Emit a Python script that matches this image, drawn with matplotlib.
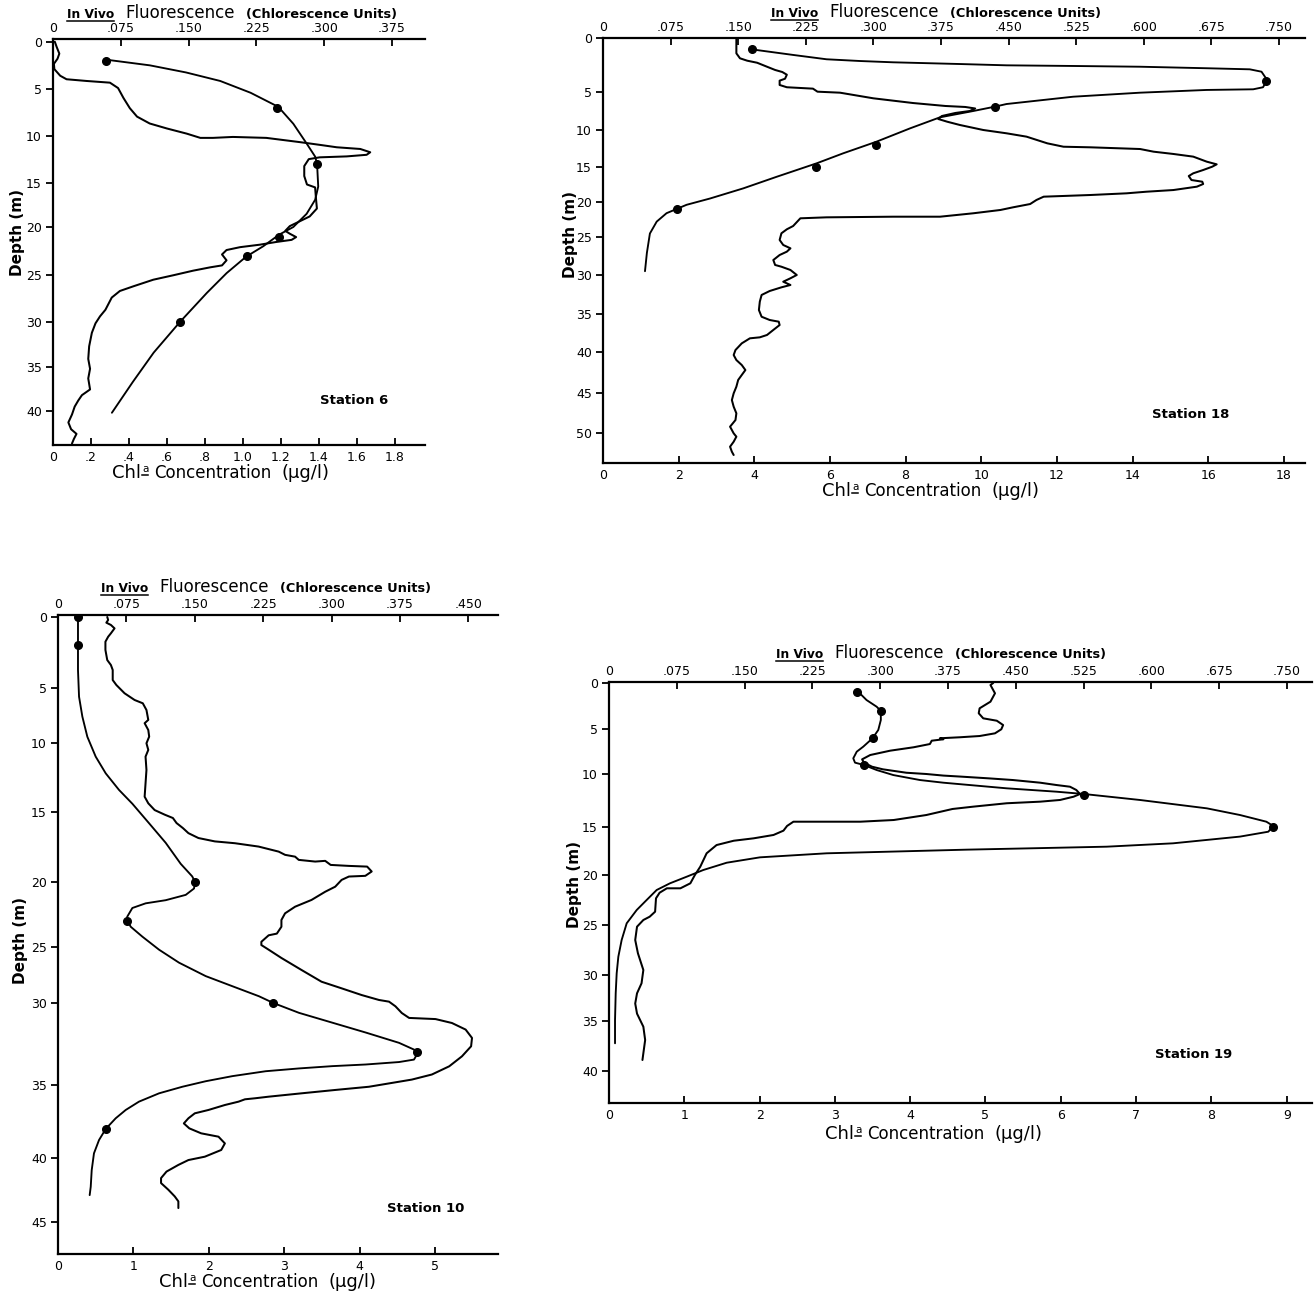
import numpy as np
import matplotlib
matplotlib.use("Agg")
import matplotlib.pyplot as plt
from matplotlib.lines import Line2D

plt.rcParams['font.family'] = ['DejaVu Sans']

W, H = 1316, 1292

# ======================= DATA =======================
# ---- Station 6 ----
s6_fl_depth = [0, 0.54, 1.26, 1.8, 2.34, 2.9, 3.6, 3.97, 4.15, 4.33,
               4.9, 5.96, 7.04, 7.94, 8.67, 9.2, 9.75, 10.2, 10.2, 10.1,
               10.2, 10.65, 10.94, 11.2, 11.38, 11.73, 12.0, 12.17, 12.27, 12.46,
               13.2, 14.26, 15.17, 15.5, 16.8, 17.9, 18.8, 19.35, 19.9, 20.4,
               20.7, 21.05, 21.34, 21.56, 21.84, 22.1, 22.4, 22.86, 23.47, 24.0,
               24.2, 24.55, 25.03, 25.5, 26.2, 26.7, 27.4, 28.7, 29.4, 30.15,
               31.2, 32.7, 34.1, 35.2, 36.3, 37.55, 38.2, 38.8, 39.5, 40.4,
               41.3, 42.07, 42.6, 43.2, 43.7]
s6_fl = [0.002, 0.004, 0.007, 0.005, 0.001, 0.0015, 0.008, 0.015, 0.037, 0.063,
         0.072, 0.078, 0.085, 0.093, 0.107, 0.126, 0.148, 0.163, 0.177, 0.199,
         0.236, 0.273, 0.295, 0.314, 0.340, 0.351, 0.347, 0.325, 0.295, 0.283,
         0.278, 0.278, 0.281, 0.290, 0.291, 0.292, 0.284, 0.273, 0.262, 0.257,
         0.262, 0.269, 0.264, 0.247, 0.229, 0.207, 0.192, 0.187, 0.192, 0.187,
         0.174, 0.155, 0.133, 0.111, 0.089, 0.074, 0.065, 0.058, 0.052, 0.047,
         0.043, 0.040, 0.039, 0.041, 0.039, 0.041, 0.032, 0.028, 0.024, 0.021,
         0.017, 0.020, 0.026, 0.023, 0.021]
s6_chl_depth = [1.9, 2.5, 3.25, 4.15, 5.4, 6.9, 8.7, 10.8, 12.2, 13.0, 15.4, 16.9,
                18.5, 20.0, 20.8, 22.0, 23.1, 24.8, 26.9, 30.0, 33.4, 36.7, 40.2]
s6_chl = [0.28, 0.51, 0.70, 0.88, 1.04, 1.186, 1.265, 1.335, 1.38, 1.39, 1.396, 1.38,
          1.335, 1.265, 1.19, 1.107, 1.016, 0.914, 0.81, 0.668, 0.53, 0.42, 0.31]
s6_dot_depth = [2, 7, 13, 21, 23, 30]
s6_dot_chl = [0.28, 1.18, 1.39, 1.19, 1.02, 0.67]
s6_chl_ticks = [0, 0.2, 0.4, 0.6, 0.8, 1.0, 1.2, 1.4, 1.6, 1.8]
s6_chl_ticklabels = ["0", ".2", ".4", ".6", ".8", "1.0", "1.2", "1.4", "1.6", "1.8"]
s6_fl_ticks = [0, 0.075, 0.150, 0.225, 0.300, 0.375]
s6_fl_ticklabels = ["0", ".075", ".150", ".225", ".300", ".375"]
s6_depth_ticks = [0, 5, 10, 15, 20, 25, 30, 35, 40]

# ---- Station 18 ----
s18_fl_depth = [0, 1.42, 1.88, 2.1, 2.29, 2.66, 2.96, 3.15, 3.4, 3.77,
                3.95, 4.35, 4.56, 4.69, 4.97, 5.09, 5.39, 5.83, 6.45, 6.84,
                6.97, 7.17, 7.5, 7.76, 8.16, 8.55, 8.91, 9.34, 10.0, 10.45,
                10.9, 11.8, 12.26, 12.34, 12.57, 12.93, 13.24, 13.6, 14.28, 14.64,
                14.96, 15.43, 15.9, 16.29, 16.86, 17.1, 17.43, 17.81, 18.29, 18.53,
                18.76, 19.0, 19.24, 19.71, 20.29, 20.76, 21.14, 21.61, 22.1, 22.1,
                22.19, 22.33, 23.43, 23.9, 24.47, 25.39, 26.05, 26.49, 26.93, 27.37,
                28.03, 28.68, 28.91, 29.34, 30.0, 30.42, 30.86, 31.28, 31.58, 32.05,
                32.56, 33.42, 34.49, 35.36, 35.79, 36.01, 36.45, 37.1, 37.76, 38.07,
                38.2, 38.86, 39.74, 40.37, 40.98, 41.59, 42.2, 42.8, 43.41, 44.23,
                45.04, 45.88, 46.71, 47.54, 48.38, 49.21, 50.04, 50.46, 51.09, 51.71,
                52.34, 52.75]
s18_fl = [0.148, 0.148, 0.152, 0.160, 0.171, 0.182, 0.191, 0.199, 0.204, 0.202,
          0.196, 0.196, 0.204, 0.233, 0.238, 0.263, 0.278, 0.300, 0.344, 0.380,
          0.402, 0.413, 0.407, 0.391, 0.376, 0.372, 0.382, 0.396, 0.422, 0.448,
          0.470, 0.493, 0.511, 0.541, 0.596, 0.611, 0.633, 0.655, 0.670, 0.681,
          0.676, 0.666, 0.655, 0.650, 0.653, 0.665, 0.666, 0.659, 0.633, 0.603,
          0.581, 0.541, 0.489, 0.481, 0.474, 0.455, 0.441, 0.411, 0.374, 0.322,
          0.248, 0.219, 0.211, 0.204, 0.198, 0.196, 0.200, 0.208, 0.204, 0.196,
          0.189, 0.191, 0.198, 0.208, 0.215, 0.208, 0.200, 0.208, 0.198, 0.185,
          0.176, 0.174, 0.173, 0.176, 0.185, 0.195, 0.196, 0.189, 0.182, 0.174,
          0.163, 0.154, 0.147, 0.145, 0.148, 0.154, 0.158, 0.154, 0.150, 0.148,
          0.145, 0.143, 0.145, 0.148, 0.147, 0.141, 0.145, 0.148, 0.145, 0.141,
          0.143, 0.145]
s18_chl_depth = [1.05, 1.57, 1.97, 2.13, 2.25, 2.41, 2.53, 2.59, 2.66, 2.8,
                 2.9, 3.12, 3.89, 4.56, 4.75, 4.81, 5.09, 5.62, 6.58, 6.93,
                 7.5, 8.33, 9.78, 11.6, 13.15, 14.5, 16.4, 18.05, 19.5, 20.4,
                 21.6, 22.8, 24.5, 27.1, 29.5]
s18_chl = [3.93, 5.03, 5.91, 6.79, 7.67, 9.44, 10.67, 12.42, 14.2, 15.96,
           17.1, 17.41, 17.56, 17.45, 17.19, 15.96, 14.2, 12.43, 10.67, 10.36,
           9.79, 8.91, 8.12, 7.22, 6.35, 5.65, 4.59, 3.71, 2.83, 2.21,
           1.68, 1.42, 1.24, 1.16, 1.11]
s18_dot_depth = [1, 4, 7, 12, 15, 21]
s18_dot_chl = [3.93, 17.54, 10.36, 7.22, 5.63, 1.96]
s18_chl_ticks = [0, 2, 4, 6, 8, 10, 12, 14, 16, 18]
s18_chl_ticklabels = ["0", "2", "4", "6", "8", "10", "12", "14", "16", "18"]
s18_fl_ticks = [0, 0.075, 0.150, 0.225, 0.300, 0.375, 0.450, 0.525, 0.600, 0.675, 0.750]
s18_fl_ticklabels = ["0", ".075", ".150", ".225", ".300", ".375", ".450", ".525",
                     ".600", ".675", ".750"]
s18_depth_ticks = [0, 5, 10, 15, 20, 25, 30, 35, 40, 45, 50]

# ---- Station 10 ----
s10_fl_depth = [0, 0.21, 0.4, 0.56, 0.8, 1.15, 1.39, 1.74, 2.32, 3.03,
                3.38, 3.73, 4.44, 4.79, 5.48, 6.09, 6.39, 7.0, 7.9, 8.2,
                8.82, 9.42, 10.02, 10.5, 10.99, 11.95, 12.92, 13.89, 14.37, 14.86,
                15.19, 15.43, 15.79, 16.15, 16.51, 16.86, 17.1, 17.23, 17.47, 17.83,
                18.06, 18.19, 18.42, 18.54, 18.49, 18.78, 18.85, 18.9, 19.25, 19.56,
                19.61, 19.85, 20.36, 20.75, 21.38, 21.9, 22.41, 22.92, 23.44, 23.97,
                24.1, 24.6, 24.85, 25.24, 25.98, 27.05, 28.1, 28.69, 29.29, 29.73,
                29.88, 30.2, 30.61, 30.91, 30.98, 31.22, 31.62, 32.13, 32.64, 33.25,
                33.86, 34.36, 34.67, 35.12, 35.34, 35.57, 35.8, 35.91, 35.98, 36.14,
                36.37, 36.71, 36.94, 37.28, 37.63, 37.97, 38.31, 38.54, 39.0, 39.45,
                39.91, 40.16, 40.54, 41.06, 41.57, 41.96, 42.48, 43.0, 43.39, 43.91]
s10_fl = [0.054, 0.055, 0.053, 0.058, 0.062, 0.058, 0.055, 0.052, 0.052, 0.054,
          0.058, 0.060, 0.060, 0.064, 0.073, 0.084, 0.093, 0.097, 0.099, 0.095,
          0.099, 0.100, 0.097, 0.099, 0.096, 0.097, 0.096, 0.095, 0.099, 0.106,
          0.117, 0.126, 0.130, 0.137, 0.143, 0.154, 0.172, 0.194, 0.220, 0.242,
          0.249, 0.260, 0.264, 0.282, 0.293, 0.299, 0.319, 0.339, 0.344, 0.337,
          0.319, 0.311, 0.304, 0.293, 0.278, 0.260, 0.249, 0.245, 0.245, 0.240,
          0.231, 0.223, 0.223, 0.231, 0.245, 0.267, 0.289, 0.311, 0.333, 0.352,
          0.363, 0.370, 0.377, 0.385, 0.414, 0.432, 0.447, 0.454, 0.453, 0.443,
          0.429, 0.410, 0.388, 0.341, 0.304, 0.267, 0.231, 0.216, 0.205, 0.198,
          0.183, 0.165, 0.150, 0.143, 0.138, 0.144, 0.157, 0.176, 0.183, 0.179,
          0.161, 0.143, 0.132, 0.119, 0.113, 0.113, 0.121, 0.128, 0.132, 0.132]
s10_chl_depth = [0, 1.97, 3.73, 5.79, 7.6, 9.43, 10.99, 12.2, 13.4, 14.4,
                 15.8, 17.2, 18.7, 19.6, 20.0, 20.5, 20.99, 21.4, 21.64, 22.0,
                 22.66, 22.85, 23.44, 24.2, 25.24, 26.4, 27.6, 28.5, 29.4, 30.0,
                 30.6, 31.2, 31.8, 32.43, 32.84, 33.1, 33.45, 33.6, 33.75, 33.85,
                 33.99, 34.16, 34.46, 34.77, 35.12, 35.57, 36.14, 36.71, 37.28, 38.01,
                 38.77, 39.68, 40.95, 42.25, 42.9]
s10_chl = [0.265, 0.265, 0.265, 0.279, 0.323, 0.389, 0.5, 0.633, 0.809, 0.986,
           1.207, 1.428, 1.627, 1.78, 1.817, 1.804, 1.694, 1.428, 1.163, 0.986,
           0.919, 0.911, 0.964, 1.118, 1.34, 1.605, 1.959, 2.312, 2.666, 2.856,
           3.196, 3.638, 4.08, 4.523, 4.721, 4.765, 4.721, 4.523, 4.08, 3.638,
           3.196, 2.754, 2.312, 1.959, 1.649, 1.34, 1.074, 0.898, 0.765, 0.633,
           0.544, 0.477, 0.447, 0.434, 0.42]
s10_dot_depth = [0, 2, 20, 23, 30, 33, 38]
s10_dot_chl = [0.265, 0.265, 1.817, 0.911, 2.856, 4.765, 0.633]
s10_chl_ticks = [0, 1, 2, 3, 4, 5]
s10_chl_ticklabels = ["0", "1", "2", "3", "4", "5"]
s10_fl_ticks = [0, 0.075, 0.150, 0.225, 0.300, 0.375, 0.450]
s10_fl_ticklabels = ["0", ".075", ".150", ".225", ".300", ".375", ".450"]
s10_depth_ticks = [0, 5, 10, 15, 20, 25, 30, 35, 40, 45]

# ---- Station 19 ----
s19_fl_depth = [0, 0.22, 1.12, 2.03, 2.75, 3.29, 3.84, 4.1, 4.57, 5.03,
                5.48, 5.78, 5.92, 6.03, 6.14, 6.3, 6.67, 7.03, 7.41, 7.89,
                8.37, 8.74, 9.19, 9.48, 9.86, 10.0, 10.15, 10.25, 10.41, 10.57,
                10.82, 11.04, 11.2, 11.51, 11.89, 12.14, 12.45, 12.61, 12.76, 13.08,
                13.3, 13.87, 14.34, 14.5, 14.5, 14.5, 14.9, 15.38, 15.83, 16.18,
                16.43, 16.88, 17.74, 19.13, 20.0, 20.83, 21.33, 21.33, 21.77, 22.33,
                23.67, 24.17, 24.5, 25.17, 26.5, 27.83, 29.5, 30.9, 31.99, 33.1,
                34.2, 35.57, 36.9, 38.23, 38.9]
s19_fl = [0.425, 0.422, 0.427, 0.422, 0.410, 0.409, 0.414, 0.429, 0.436, 0.434,
          0.427, 0.410, 0.388, 0.366, 0.370, 0.357, 0.355, 0.337, 0.311, 0.289,
          0.280, 0.282, 0.291, 0.303, 0.329, 0.351, 0.370, 0.390, 0.420, 0.447,
          0.477, 0.495, 0.510, 0.517, 0.521, 0.514, 0.499, 0.477, 0.440, 0.403,
          0.380, 0.351, 0.315, 0.278, 0.233, 0.204, 0.197, 0.193, 0.182, 0.160,
          0.138, 0.119, 0.108, 0.101, 0.095, 0.090, 0.079, 0.064, 0.056, 0.052,
          0.051, 0.045, 0.038, 0.031, 0.029, 0.032, 0.038, 0.036, 0.031, 0.029,
          0.031, 0.038, 0.040, 0.038, 0.037]
s19_chl_depth = [0.87, 1.85, 2.58, 3.04, 4.02, 5.11, 6.03, 6.96, 7.52, 8.26,
                 8.74, 9.0, 9.56, 10.1, 10.57, 10.82, 11.35, 11.67, 11.89, 12.45,
                 13.24, 13.87, 14.5, 14.9, 15.49, 16.0, 16.7, 17.05, 17.2, 17.36,
                 17.74, 18.16, 18.72, 19.48, 20.17, 20.83, 21.5, 22.5, 23.5, 24.83,
                 26.5, 28.17, 29.83, 31.99, 34.9, 37.23]
s19_chl = [3.30, 3.42, 3.555, 3.61, 3.61, 3.576, 3.50, 3.377, 3.29, 3.244,
           3.267, 3.386, 3.555, 3.776, 4.13, 4.44, 5.28, 5.945, 6.31, 7.05,
           7.94, 8.38, 8.73, 8.82, 8.756, 8.38, 7.49, 6.61, 5.72, 4.75,
           2.89, 2.005, 1.563, 1.252, 1.032, 0.81, 0.633, 0.5, 0.368, 0.235,
           0.168, 0.124, 0.102, 0.089, 0.08, 0.08]
s19_dot_depth = [1, 3, 6, 9, 12, 15]
s19_dot_chl = [3.30, 3.61, 3.50, 3.39, 6.31, 8.82]
s19_chl_ticks = [0, 1, 2, 3, 4, 5, 6, 7, 8, 9]
s19_chl_ticklabels = ["0", "1", "2", "3", "4", "5", "6", "7", "8", "9"]
s19_fl_ticks = [0, 0.075, 0.150, 0.225, 0.300, 0.375, 0.450, 0.525, 0.600, 0.675, 0.750]
s19_fl_ticklabels = ["0", ".075", ".150", ".225", ".300", ".375", ".450", ".525",
                     ".600", ".675", ".750"]
s19_depth_ticks = [0, 5, 10, 15, 20, 25, 30, 35, 40]

station_names = ["Station 6", "Station 18", "Station 10", "Station 19"]

# ======================= LAYOUT =======================
# axes boxes in pixels: (left, top, right, bottom)
BOX = {
    6: (53, 39, 425, 445),
    18: (603, 38, 1305, 463),
    10: (58, 615, 498, 1254),
    19: (609, 682, 1312, 1103),
}
# pixel rows of the hand-drawn depth ticks (axis calibration)
DEPTH_ROWS = {
    6: [41.7, 89, 136, 183, 227, 275, 322, 367, 411],
    18: [38, 92, 130, 167, 202, 237, 275, 314, 352, 393, 433],
    10: [617, 688, 743, 812, 882, 947, 1003, 1085, 1158, 1222],
    19: [683, 729, 774, 827, 875, 925, 975, 1021, 1071],
}
CHL_MAX = {6: 1.958, 18: 18.56, 10: 5.835, 19: 9.336}
FL_MAX = {6: 0.4116, 18: 0.779, 10: 0.4825, 19: 0.7777}

TOP_TITLE = {6: (67, 18), 18: (771, 17), 10: (101, 592), 19: (776, 658)}
BOT_TITLE = {6: (112, 478), 18: (822, 496), 10: (159, 1287), 19: (825, 1139)}
DEPTH_LBL = {6: (18, 233), 18: (570, 235), 10: (21, 941), 19: (575, 885)}
STATION_LBL = {6: (320, 400), 18: (1152, 415), 10: (387, 1209), 19: (1155, 1055)}

fig = plt.figure(figsize=(W / 100, H / 100), dpi=100)


def depth_scale(ticks, rows):
    d = np.asarray(ticks, float)
    p = np.asarray(rows, float)
    s0 = (p[1] - p[0]) / (d[1] - d[0])
    s1 = (p[-1] - p[-2]) / (d[-1] - d[-2])
    d_ext = np.r_[d[0] - 1000, d, d[-1] + 1000]
    p_ext = np.r_[p[0] - 1000 * s0, p, p[-1] + 1000 * s1]

    def fwd(x):
        return np.interp(np.asarray(x, float), d_ext, p_ext)

    def inv(y):
        return np.interp(np.asarray(y, float), p_ext, d_ext)
    return fwd, inv


def panel(key, depth_ticks, chl_ticks, chl_labels, fl_ticks, fl_labels,
          fl_d, fl_v, chl_d, chl_v, dot_d, dot_v):
    l, t, r, b = BOX[key]
    ax = fig.add_axes([l / W, 1 - b / H, (r - l) / W, (b - t) / H])
    fwd, inv = depth_scale(depth_ticks, DEPTH_ROWS[key])
    ax.set_yscale('function', functions=(fwd, inv))
    ax.set_ylim(float(inv(b)), float(inv(t)))
    ax.set_xlim(0, CHL_MAX[key])
    ax.plot(chl_v, chl_d, color='k', lw=1.35, solid_joinstyle='round',
            solid_capstyle='round')
    ax.plot(dot_v, dot_d, 'o', color='k', ms=5.5)
    ax.set_xticks(chl_ticks, labels=chl_labels)
    ax.set_yticks(depth_ticks, labels=[str(v) for v in depth_ticks])
    ax.yaxis.set_minor_locator(matplotlib.ticker.NullLocator())
    ax.spines['top'].set_visible(False)
    ax.spines['right'].set_visible(False)
    for s in ('left', 'bottom'):
        ax.spines[s].set_linewidth(1.6)
    ax.tick_params(axis='x', direction='in', length=5, width=1.3, labelsize=9, pad=4)
    ax.tick_params(axis='y', direction='out', length=5, width=1.3, labelsize=9, pad=3)

    ax2 = ax.twiny()
    ax2.set_xlim(0, FL_MAX[key])
    ax2.plot(fl_v, fl_d, color='k', lw=1.45, solid_joinstyle='round',
             solid_capstyle='round')
    ax2.set_xticks(fl_ticks, labels=fl_labels)
    for s in ('left', 'right', 'bottom'):
        ax2.spines[s].set_visible(False)
    ax2.spines['top'].set_linewidth(1.6)
    ax2.tick_params(axis='x', direction='in', length=5, width=1.3, labelsize=9, pad=3)
    return ax


panel(6, s6_depth_ticks, s6_chl_ticks, s6_chl_ticklabels, s6_fl_ticks, s6_fl_ticklabels,
      s6_fl_depth, s6_fl, s6_chl_depth, s6_chl, s6_dot_depth, s6_dot_chl)
panel(18, s18_depth_ticks, s18_chl_ticks, s18_chl_ticklabels, s18_fl_ticks, s18_fl_ticklabels,
      s18_fl_depth, s18_fl, s18_chl_depth, s18_chl, s18_dot_depth, s18_dot_chl)
panel(10, s10_depth_ticks, s10_chl_ticks, s10_chl_ticklabels, s10_fl_ticks, s10_fl_ticklabels,
      s10_fl_depth, s10_fl, s10_chl_depth, s10_chl, s10_dot_depth, s10_dot_chl)
panel(19, s19_depth_ticks, s19_chl_ticks, s19_chl_ticklabels, s19_fl_ticks, s19_fl_ticklabels,
      s19_fl_depth, s19_fl, s19_chl_depth, s19_chl, s19_dot_depth, s19_dot_chl)

renderer = fig.canvas.get_renderer()


def compound(x, y, pieces):
    """pieces: (text, size, weight, underline, raise_px, gap_after_px)"""
    cur = x
    for txt, size, weight, underline, dy, gap in pieces:
        t = fig.text(cur / W, 1 - (y - dy) / H, txt, fontsize=size, fontweight=weight,
                     ha='left', va='baseline')
        bb = t.get_window_extent(renderer)
        if underline:
            yl = (H - (y - dy) - 2.5) / H
            fig.add_artist(Line2D([bb.x0 / W, bb.x1 / W], [yl, yl],
                                  transform=fig.transFigure, color='k', lw=1.1))
        cur += bb.width + gap


for key, name in zip([6, 18, 10, 19], station_names):
    tx, ty = TOP_TITLE[key]
    compound(tx, ty, [("In Vivo", 8.8, 'bold', True, 0, 11),
                      ("Fluorescence", 12, 'normal', False, 0, 11),
                      ("(Chlorescence Units)", 9.3, 'bold', False, 0, 0)])
    bx, by = BOT_TITLE[key]
    compound(bx, by, [("Chl", 13, 'normal', False, 0, 1),
                      ("a", 7.5, 'normal', True, 6, 6),
                      ("Concentration", 12, 'normal', False, 0, 10),
                      ("(\u03bcg/l)", 13, 'normal', False, 0, 0)])
    dx, dy = DEPTH_LBL[key]
    fig.text(dx / W, 1 - dy / H, "Depth (m)", rotation=90, fontsize=11,
             fontweight='bold', ha='center', va='center')
    sx, sy = STATION_LBL[key]
    fig.text(sx / W, 1 - sy / H, name, fontsize=9.5, fontweight='bold',
             ha='left', va='center')

fig.savefig("out.png", dpi=100)
